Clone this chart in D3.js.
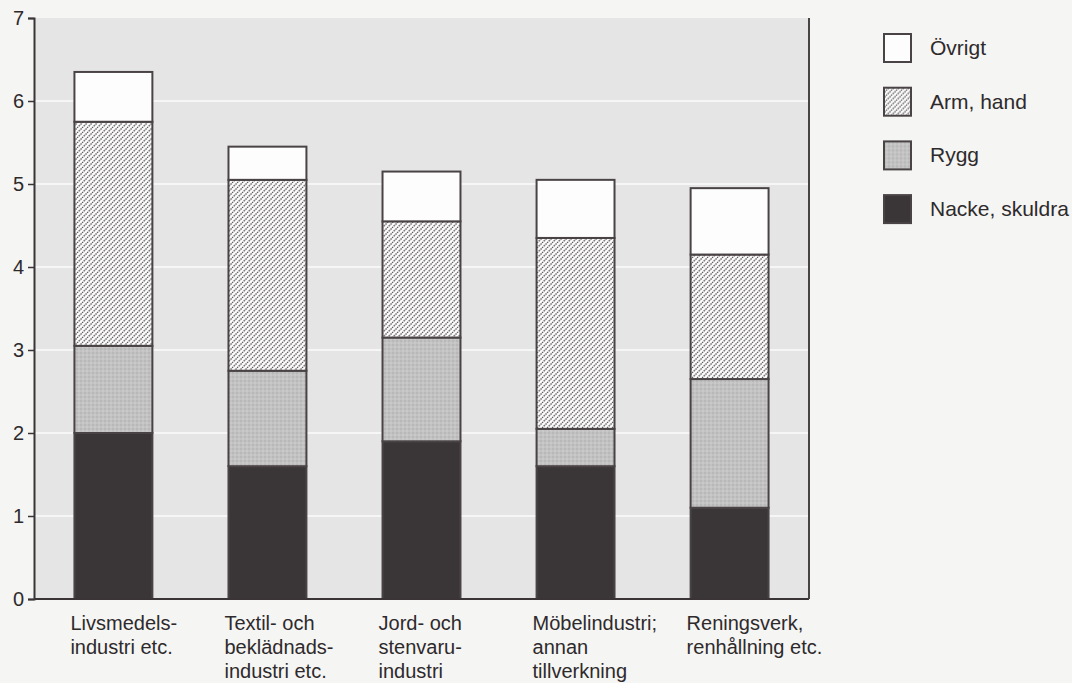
<!DOCTYPE html>
<meta charset="utf-8">
<script src="https://d3js.org/d3.v7.min.js"></script>
<style>
body { margin: 0; background: #f5f5f4; }
text { font-family: "Liberation Sans", Arial, sans-serif; fill: #2e2a2b; }
</style>
<div id="chart"></div>
<script>
// categories (label lines)
var categories = [
  ["Livsmedels-", "industri etc."],
  ["Textil- och", "beklädnads-", "industri etc."],
  ["Jord- och", "stenvaru-", "industri"],
  ["Möbelindustri;", "annan", "tillverkning"],
  ["Reningsverk,", "renhållning etc."]
];
var seriesNames = ["Nacke, skuldra", "Rygg", "Arm, hand", "Övrigt"];
var nacke  = [2.0, 1.6, 1.9, 1.6, 1.1];
var rygg   = [1.05, 1.15, 1.25, 0.45, 1.55];
var armHand = [2.7, 2.3, 1.4, 2.3, 1.5];
var ovrigt = [0.6, 0.4, 0.6, 0.7, 0.8];
var yTicks = [0, 1, 2, 3, 4, 5, 6, 7];

var W = 1072, H = 683;
var margin = {top: 18, right: 263, bottom: 84, left: 34};

var svg = d3.select("#chart").append("svg")
  .attr("width", W).attr("height", H);

var defs = svg.append("defs");
// arm, hand: dotted diagonal hatch
var hatch = defs.append("pattern")
  .attr("id", "hatch").attr("patternUnits", "userSpaceOnUse")
  .attr("width", 5).attr("height", 5);
hatch.append("rect").attr("width", 5).attr("height", 5).attr("fill", "#fbfbfb");
hatch.append("path").attr("d", "M-1,6 L6,-1 M-1,1 L1,-1 M4,6 L6,4")
  .attr("stroke", "#5a5556").attr("stroke-width", 1.3).attr("stroke-dasharray", "1.4 0.8");
// rygg: grey stipple
var stip = defs.append("pattern")
  .attr("id", "stipple").attr("patternUnits", "userSpaceOnUse")
  .attr("width", 4).attr("height", 4);
stip.append("rect").attr("width", 4).attr("height", 4).attr("fill", "#c2c2c2");
stip.append("circle").attr("cx", 1).attr("cy", 1).attr("r", 0.8).attr("fill", "#ababab");
stip.append("circle").attr("cx", 3).attr("cy", 3).attr("r", 0.8).attr("fill", "#d2d2d2");

var fills = {
  "Nacke, skuldra": "#3a3637",
  "Rygg": "url(#stipple)",
  "Arm, hand": "url(#hatch)",
  "Övrigt": "#fdfdfd"
};

var rows = categories.map(function(c, i) {
  return {cat: i, "Nacke, skuldra": nacke[i], "Rygg": rygg[i], "Arm, hand": armHand[i], "Övrigt": ovrigt[i]};
});

var x = d3.scaleBand()
  .domain(d3.range(categories.length))
  .range([margin.left, W - margin.right])
  .paddingInner(0.494).paddingOuter(0.2625);

var y = d3.scaleLinear().domain([0, 7]).range([H - margin.bottom, margin.top]);

// plot background
svg.append("rect")
  .attr("x", x.range()[0]).attr("y", y(7))
  .attr("width", x.range()[1] - x.range()[0]).attr("height", y(0) - y(7))
  .attr("fill", "#e5e5e5");

// light gridlines
svg.append("g").selectAll("line").data(yTicks.slice(1, 7)).enter().append("line")
  .attr("x1", x.range()[0]).attr("x2", x.range()[1])
  .attr("y1", function(d) { return y(d); }).attr("y2", function(d) { return y(d); })
  .attr("stroke", "#f6f6f6").attr("stroke-width", 2);

var stack = d3.stack().keys(seriesNames);
var layers = stack(rows);

svg.append("g").selectAll("g").data(layers).enter().append("g")
  .attr("fill", function(d) { return fills[d.key]; })
  .selectAll("rect").data(function(d) { return d; }).enter().append("rect")
    .attr("x", function(d) { return x(d.data.cat); })
    .attr("y", function(d) { return y(d[1]); })
    .attr("width", x.bandwidth())
    .attr("height", function(d) { return y(d[0]) - y(d[1]); })
    .attr("stroke", "#4a4345").attr("stroke-width", 2);

// y axis
var yAxis = svg.append("g")
  .attr("transform", "translate(" + x.range()[0] + ",0)")
  .call(d3.axisLeft(y).tickValues(yTicks).tickSize(6).tickPadding(4).tickFormat(d3.format("d")));
yAxis.attr("font-size", null).attr("font-family", null);
yAxis.select(".domain").attr("stroke", "#3a3436").attr("stroke-width", 2);
yAxis.selectAll(".tick line").attr("stroke", "#3a3436").attr("stroke-width", 1.5);
yAxis.selectAll("text").style("font-size", "20px").attr("fill", "#2e2a2b");

// baseline and right border
svg.append("line")
  .attr("x1", x.range()[0]).attr("x2", x.range()[1])
  .attr("y1", y(0)).attr("y2", y(0))
  .attr("stroke", "#3a3436").attr("stroke-width", 2);
svg.append("line")
  .attr("x1", x.range()[1]).attr("x2", x.range()[1])
  .attr("y1", y(7)).attr("y2", y(0))
  .attr("stroke", "#4a4345").attr("stroke-width", 2);

// category labels
var labels = svg.append("g").selectAll("text").data(categories).enter().append("text")
  .attr("x", function(d, i) { return x(i) - 4; })
  .attr("y", y(0) + 31)
  .attr("font-size", 20);
labels.selectAll("tspan").data(function(d) { return d; }).enter().append("tspan")
  .attr("x", function() { return d3.select(this.parentNode).attr("x"); })
  .attr("dy", function(d, i) { return i === 0 ? 0 : 24; })
  .text(function(d) { return d; });

// legend
var legendKeys = seriesNames.slice().reverse();
var lg = svg.append("g").selectAll("g").data(legendKeys).enter().append("g")
  .attr("transform", function(d, i) { return "translate(884," + (34 + i * 53.7) + ")"; });
lg.append("rect")
  .attr("width", 27).attr("height", 28)
  .attr("fill", function(d) { return fills[d]; })
  .attr("stroke", "#4a4345").attr("stroke-width", 2);
lg.append("text")
  .attr("x", 46).attr("y", 21)
  .attr("font-size", 21)
  .text(function(d) { return d; });
</script>
